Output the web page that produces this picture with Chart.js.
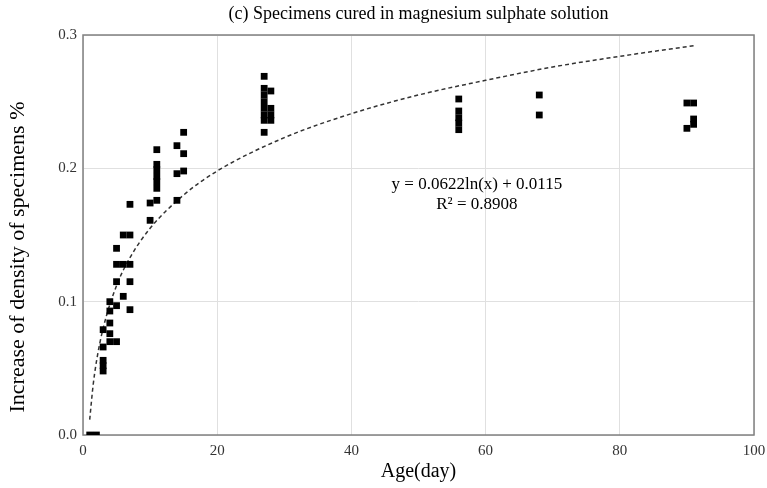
<!DOCTYPE html>
<html>
<head>
<meta charset="utf-8">
<script src="https://cdn.jsdelivr.net/npm/chart.js@4.4.1/dist/chart.umd.min.js"></script>
<style>
  body { margin: 0; background: #fff; }
  #wrap { width: 767px; height: 488px; }
</style>
</head>
<body>
<div id="wrap"><canvas id="myChart"></canvas></div>
<script>
// measured points: age in days and density increase (%)
var ageX = [1, 2, 3, 3, 3, 3, 3,
            4, 4, 4, 4, 4,
            5, 5, 5, 5, 5,
            6, 6, 6,
            7, 7, 7, 7, 7,
            10, 10,
            11, 11, 11, 11, 11, 11, 11,
            14, 14, 14,
            15, 15, 15,
            27, 27, 27, 27, 27, 27, 27, 27,
            28, 28, 28, 28,
            56, 56, 56, 56, 56,
            68, 68,
            90, 90,
            91, 91, 91];
var incY = [0, 0, 0.048, 0.052, 0.056, 0.066, 0.079,
            0.070, 0.076, 0.084, 0.093, 0.100,
            0.070, 0.097, 0.115, 0.128, 0.140,
            0.104, 0.128, 0.150,
            0.094, 0.115, 0.128, 0.150, 0.173,
            0.161, 0.174,
            0.176, 0.185, 0.190, 0.194, 0.199, 0.203, 0.214,
            0.176, 0.196, 0.217,
            0.198, 0.211, 0.227,
            0.227, 0.236, 0.240, 0.245, 0.250, 0.255, 0.260, 0.269,
            0.236, 0.240, 0.245, 0.258,
            0.229, 0.234, 0.238, 0.243, 0.252,
            0.240, 0.255,
            0.230, 0.249,
            0.233, 0.237, 0.249];

// dashed trendline
var trendX = [1, 1.5, 2, 3, 5, 7, 10, 15, 20, 30, 40, 50, 60, 70, 80, 91];
var trendY = [0.0115, 0.037, 0.055, 0.080, 0.112, 0.133, 0.155, 0.180, 0.198, 0.223, 0.241, 0.255, 0.266, 0.276, 0.284, 0.292];

var xTicks = [0, 20, 40, 60, 80, 100];
var yTicks = [0.0, 0.1, 0.2, 0.3];

var chartTitle = '(c) Specimens cured in magnesium sulphate solution';
var yTitle = 'Increase of density of specimens %';
var eqLine1 = 'y = 0.0622ln(x) + 0.0115';
var eqLine2 = 'R\u00b2 = 0.8908';

var pts = ageX.map(function (a, i) { return { x: a, y: incY[i] }; });
var trend = trendX.map(function (a, i) { return { x: a, y: trendY[i] }; });

var serif = "'Liberation Serif', 'Times New Roman', serif";

// frame, titles and equation text
var extras = {
    id: 'extras',
    beforeDatasetsDraw: function (chart) {
        var a = chart.chartArea, c = chart.ctx;
        c.save();
        c.strokeStyle = '#808080';
        c.lineWidth = 1.5;
        c.strokeRect(a.left, a.top, a.right - a.left, a.bottom - a.top);
        c.restore();
    },
    afterDraw: function (chart) {
        var a = chart.chartArea, c = chart.ctx;
        var xs = chart.scales.x, ys = chart.scales.y;
        c.save();
        c.fillStyle = '#000';
        c.textAlign = 'center';
        c.textBaseline = 'middle';
        c.font = '18px ' + serif;
        c.fillText(chartTitle, (a.left + a.right) / 2, 14);
        c.font = '17px ' + serif;
        c.fillText(eqLine1, xs.getPixelForValue(58.7), ys.getPixelForValue(0.1875));
        c.fillText(eqLine2, xs.getPixelForValue(58.7), ys.getPixelForValue(0.1725));
        c.translate(18, 257);
        c.rotate(-Math.PI / 2);
        c.font = '22px ' + serif;
        c.fillText(yTitle, 0, 0);
        c.restore();
    }
};

var ctx = document.getElementById('myChart').getContext('2d');
var myChart = new Chart(ctx, {
    type: 'scatter',
    data: {
        datasets: [{
            label: 'data',
            data: pts,
            backgroundColor: '#000',
            borderColor: '#000',
            pointStyle: 'rect',
            pointRadius: 4.8,
            borderWidth: 0,
            order: 1
        },
        {
            label: 'trend',
            type: 'line',
            data: trend,
            borderColor: '#333',
            borderWidth: 1.5,
            borderDash: [4, 3],
            pointRadius: 0,
            fill: false,
            cubicInterpolationMode: 'monotone',
            order: 2
        }]
    },
    options: {
        responsive: true,
        maintainAspectRatio: false,
        animation: false,
        layout: { padding: { top: 35, right: 13, left: 0, bottom: 0 } },
        plugins: {
            legend: { display: false },
            tooltip: { enabled: false }
        },
        scales: {
            x: {
                type: 'linear',
                min: 0, max: 100,
                afterFit: function (s) { s.height = 53; s.paddingRight = 0; },
                afterBuildTicks: function (s) { s.ticks = xTicks.map(function (v) { return { value: v }; }); },
                grid: { color: '#e0e0e0', drawTicks: false },
                border: { display: false },
                ticks: { padding: 7, color: '#333', font: { family: serif, size: 15 } },
                title: { display: true, text: 'Age(day)', color: '#000', padding: { top: 0, bottom: 4 }, font: { family: serif, size: 20 } }
            },
            y: {
                min: 0, max: 0.3,
                afterFit: function (s) { s.width = 83; },
                afterBuildTicks: function (s) { s.ticks = yTicks.map(function (v) { return { value: v }; }); },
                grid: { color: '#e0e0e0', drawTicks: false },
                border: { display: false },
                ticks: { padding: 6, color: '#333', font: { family: serif, size: 15 },
                         callback: function (v) { return Number(v).toFixed(1); } },
                title: { display: false }
            }
        }
    },
    plugins: [extras]
});
</script>
</body>
</html>
